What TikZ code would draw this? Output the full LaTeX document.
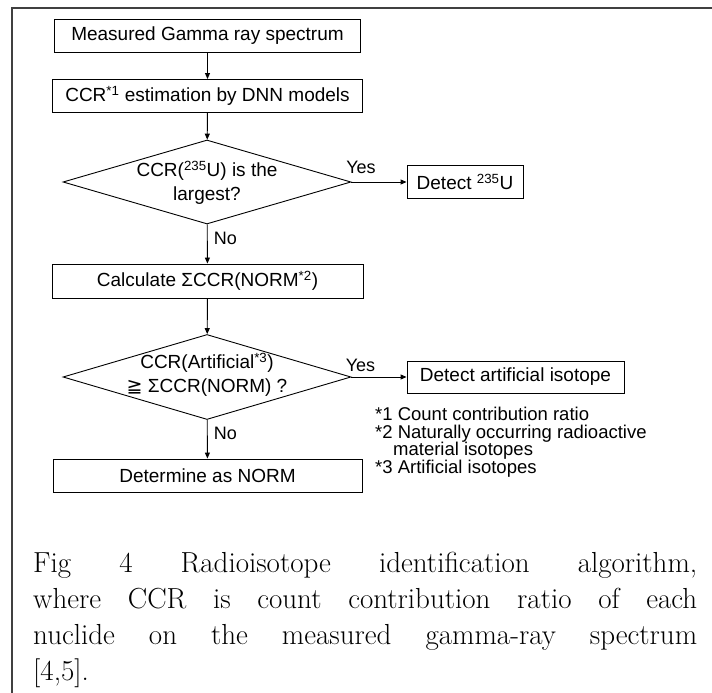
\documentclass[tikz,border=0pt]{standalone}
\usepackage{fontspec}
\setsansfont{Liberation Sans}
\newfontfamily\geqfont{DejaVu Sans}
\usetikzlibrary{shapes.geometric,arrows.meta}

\begin{document}
\begin{tikzpicture}[x=1pt,y=-1pt,
	box/.style={draw,line width=0.9pt,minimum height=33pt,inner sep=0pt,font=\sffamily\fontsize{19}{24}\selectfont},
	decide/.style={draw,diamond,line width=0.9pt,inner sep=0pt,minimum width=288pt},
	txt/.style={inner sep=0pt,align=center,font=\sffamily\fontsize{19}{24}\selectfont},
	lbl/.style={inner sep=0pt,font=\sffamily\fontsize{18}{20}\selectfont},
	flow/.style={line width=0.9pt,-{Triangle[length=6pt,width=5pt]}}]
		\useasboundingbox (0,0) rectangle (712,693);
		%边框
		\draw[line width=1.5pt,black!75] (712,8) -- (12,8) -- (12,693);
		%流程
		\draw (207.5,35.5) node[box,minimum width=306pt](meas){Measured Gamma ray spectrum};
		\draw (207.5,96) node[box,minimum width=310pt](dnn){CCR\textsuperscript{*1} estimation by DNN models};
		\draw (207,182) node[decide,minimum height=84pt](q1){};
		\draw (465,182) node[box,minimum width=116pt](u235){Detect \textsuperscript{235}U};
		\draw (207.5,281) node[box,minimum width=311pt,minimum height=34pt](sum){Calculate ΣCCR(NORM\textsuperscript{*2})};
		\draw (207,377) node[decide,minimum height=85pt](q2){};
		\draw (515.5,377) node[box,minimum width=217pt,minimum height=32pt](art){Detect artificial isotope};
		\draw (207.5,475.5) node[box,minimum width=309pt](norm){Determine as NORM};
		\draw (207,183) node[txt](q1-t){CCR(\textsuperscript{235}U) is the\\largest?};
		\draw (207,375) node[txt](q2-t){CCR(Artificial\textsuperscript{*3})\\{\geqfont ≧} ΣCCR(NORM) ?};
		\draw[flow] (meas) -- (dnn);
		\draw[flow] (dnn) -- (q1);
		\draw[flow] (q1) -- (u235);
		\draw[flow] (q1) -- (sum);
		\draw[flow] (sum) -- (q2);
		\draw[flow] (q2) -- (art);
		\draw[flow] (q2) -- (norm);
		\draw (361,167) node[lbl](yes-1){Yes} (225.5,238) node[lbl](no-1){No};
		\draw (360.5,365) node[lbl](yes-2){Yes} (225.5,433) node[lbl](no-2){No};
		%注释
		\draw (375,407) node[anchor=north west,inner sep=0pt,align=left,font=\sffamily\fontsize{18.5}{17.5}\selectfont](notes){*1 Count contribution ratio\\{}*2 Naturally occurring radioactive\\\hspace*{18pt}material isotopes\\{}*3 Artificial isotopes};
		%图题
		\draw (33,552) node[anchor=north west,inner sep=0pt,text width=664pt,align=justify,font=\rmfamily\fontsize{29}{36}\selectfont](cap){Fig 4 Radioisotope identification algorithm,\linebreak where CCR is count contribution ratio of each\linebreak nuclide on the measured gamma-ray spectrum\linebreak{}[4,5].};
	\end{tikzpicture}
\end{document}
